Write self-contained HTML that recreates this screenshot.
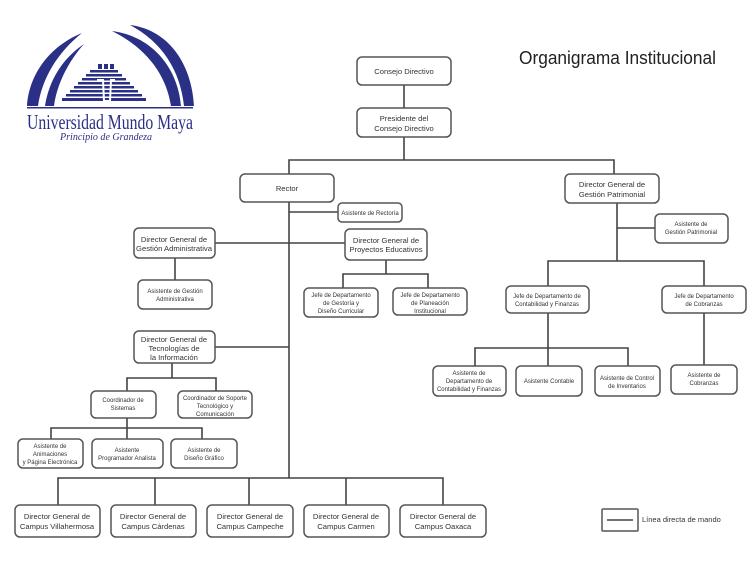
<!DOCTYPE html>
<html><head><meta charset="utf-8"><style>
html,body{margin:0;padding:0;background:#fff;}
svg{display:block;}
text{font-family:"Liberation Sans",sans-serif;fill:#333;}
</style></head><body>
<svg width="752" height="576" viewBox="0 0 752 576" xmlns="http://www.w3.org/2000/svg">
<!-- Logo -->
<g fill="#2b3087">
<path d="M27,106 C29,74 50,46 82,33 C58,52 42,78 38,106 Z"/>
<path d="M45,106 C49,80 63,58 84,44 C68,62 57,84 54,106 Z"/>
<path d="M112,31 C152,36 178,68 181,106 L171,106 C166,74 146,48 112,31 Z"/>
<path d="M130,25 C170,30 192,66 194,106 L184,106 C180,70 162,42 130,25 Z"/>
<rect x="98" y="64" width="4" height="5"/><rect x="104" y="64" width="4" height="5"/><rect x="110" y="64" width="4" height="5"/>
<rect x="90" y="70" width="28" height="2.5"/>
<rect x="86" y="74" width="36" height="2.5"/>
<rect x="82" y="78" width="44" height="2.5"/>
<rect x="78" y="82" width="52" height="2.5"/>
<rect x="74" y="86" width="60" height="2.5"/>
<rect x="70" y="90" width="68" height="2.5"/>
<rect x="66" y="94" width="76" height="2.5"/>
<rect x="62" y="98" width="84" height="3"/>
<rect x="27" y="107" width="166" height="1.5"/>
</g>
<path d="M97,80 L103,80 L104,101 L110,101 L111,80 L115,80" fill="none" stroke="#fff" stroke-width="2"/>
<text x="27" y="129" font-size="21.5" style="font-family:'Liberation Serif',serif;fill:#2b3087" textLength="166" lengthAdjust="spacingAndGlyphs">Universidad Mundo Maya</text>
<text x="60" y="140" font-size="10.5" font-style="italic" style="font-family:'Liberation Serif',serif;fill:#2b3087" textLength="92" lengthAdjust="spacingAndGlyphs">Principio de Grandeza</text>

<text x="519" y="64" font-size="18.5" style="fill:#222" textLength="197" lengthAdjust="spacingAndGlyphs">Organigrama Institucional</text>

<!-- connectors -->
<g stroke="#444" stroke-width="1.6" fill="none">
<path d="M404,85V108 M404,137V160 M289,174V160H614V174"/>
<path d="M289,202V478 M289,212H338 M215,243H345 M175,258V280"/>
<path d="M386,260V274 M343,288V274H428V288"/>
<path d="M215,347H289 M172,363V378 M127,391V378H216V391"/>
<path d="M127,418V428 M51,440V428H202V440 M127,428V440"/>
<path d="M58,505V478H443V505 M155,478V505 M249,478V505 M346,478V505"/>
<path d="M617,203V261 M617,228H655 M548,286V261H704V286"/>
<path d="M548,313V348 M475,366V348H628V366 M548,348V366 M704,313V365"/>
</g>
<!-- boxes -->
<g stroke="#555" stroke-width="1.5" fill="#fff">
<rect x="357" y="57" width="94" height="28" rx="5"/>
<rect x="357" y="108" width="94" height="29" rx="5"/>
<rect x="240" y="174" width="94" height="28" rx="5"/>
<rect x="338" y="203" width="64" height="19" rx="4"/>
<rect x="134" y="228" width="81" height="30" rx="5"/>
<rect x="345" y="229" width="82" height="31" rx="5"/>
<rect x="138" y="280" width="74" height="29" rx="5"/>
<rect x="304" y="288" width="74" height="29" rx="5"/>
<rect x="393" y="288" width="74" height="27" rx="5"/>
<rect x="565" y="174" width="94" height="29" rx="5"/>
<rect x="655" y="214" width="73" height="29" rx="5"/>
<rect x="506" y="286" width="83" height="27" rx="5"/>
<rect x="662" y="286" width="84" height="27" rx="5"/>
<rect x="433" y="366" width="73" height="30" rx="5"/>
<rect x="516" y="366" width="66" height="30" rx="5"/>
<rect x="595" y="366" width="65" height="30" rx="5"/>
<rect x="671" y="365" width="66" height="29" rx="5"/>
<rect x="134" y="331" width="81" height="32" rx="5"/>
<rect x="91" y="391" width="65" height="27" rx="5"/>
<rect x="178" y="391" width="74" height="27" rx="5"/>
<rect x="18" y="439" width="65" height="29" rx="5"/>
<rect x="92" y="439" width="71" height="29" rx="5"/>
<rect x="171" y="439" width="66" height="29" rx="5"/>
<rect x="15" y="505" width="85" height="32" rx="5"/>
<rect x="111" y="505" width="85" height="32" rx="5"/>
<rect x="207" y="505" width="86" height="32" rx="5"/>
<rect x="304" y="505" width="85" height="32" rx="5"/>
<rect x="400" y="505" width="86" height="32" rx="5"/>
<rect x="602" y="509" width="36" height="22" rx="1"/>
</g>
<line x1="607" y1="520" x2="633" y2="520" stroke="#444" stroke-width="1.5"/>
<!-- text -->
<g font-size="7.6" text-anchor="middle">
<text x="404" y="74">Consejo Directivo</text>
<text x="404" y="121">Presidente del</text><text x="404" y="131">Consejo Directivo</text>
<text x="287" y="191">Rector</text>
<text x="174" y="242">Director General de</text><text x="174" y="251" textLength="76" lengthAdjust="spacingAndGlyphs">Gestión Administrativa</text>
<text x="386" y="243">Director General de</text><text x="386" y="252">Proyectos Educativos</text>
<text x="612" y="187">Director General de</text><text x="612" y="197">Gestión Patrimonial</text>
<text x="174" y="342">Director General de</text><text x="174" y="351">Tecnologías de</text><text x="174" y="360">la Información</text>
<text x="57" y="519">Director General de</text><text x="57" y="529">Campus Villahermosa</text>
<text x="153" y="519">Director General de</text><text x="153" y="529">Campus Cárdenas</text>
<text x="250" y="519">Director General de</text><text x="250" y="529">Campus Campeche</text>
<text x="346" y="519">Director General de</text><text x="346" y="529">Campus Carmen</text>
<text x="443" y="519">Director General de</text><text x="443" y="529">Campus Oaxaca</text>
</g>
<g font-size="6" text-anchor="middle">
<text x="370" y="215">Asistente de Rectoría</text>
<text x="175" y="293">Asistente de Gestión</text><text x="175" y="301">Administrativa</text>
<text x="341" y="297">Jefe de Departamento</text><text x="341" y="305">de Gestoría y</text><text x="341" y="313">Diseño Curricular</text>
<text x="430" y="297">Jefe de Departamento</text><text x="430" y="305">de Planeación</text><text x="430" y="313">Institucional</text>
<text x="691" y="226">Asistente de</text><text x="691" y="234">Gestión Patrimonial</text>
<text x="547" y="298">Jefe de Departamento de</text><text x="547" y="306">Contabilidad y Finanzas</text>
<text x="704" y="298">Jefe de Departamento</text><text x="704" y="306">de Cobranzas</text>
<text x="469" y="375">Asistente de</text><text x="469" y="383">Departamento de</text><text x="469" y="391">Contabilidad y Finanzas</text>
<text x="549" y="383">Asistente Contable</text>
<text x="627" y="380">Asistente de Control</text><text x="627" y="388">de Inventarios</text>
<text x="704" y="377">Asistente de</text><text x="704" y="385">Cobranzas</text>
<text x="123" y="402">Coordinador de</text><text x="123" y="410">Sistemas</text>
<text x="215" y="400">Coordinador de Soporte</text><text x="215" y="408">Tecnológico y</text><text x="215" y="416">Comunicación</text>
<text x="50" y="448">Asistente de</text><text x="50" y="456">Animaciones</text><text x="50" y="464">y Página Electrónica</text>
<text x="127" y="452">Asistente</text><text x="127" y="460">Programador Analista</text>
<text x="204" y="452">Asistente de</text><text x="204" y="460">Diseño Gráfico</text>
</g>
<text x="642" y="522" font-size="7.5">Línea directa de mando</text>
</svg>
</body></html>
